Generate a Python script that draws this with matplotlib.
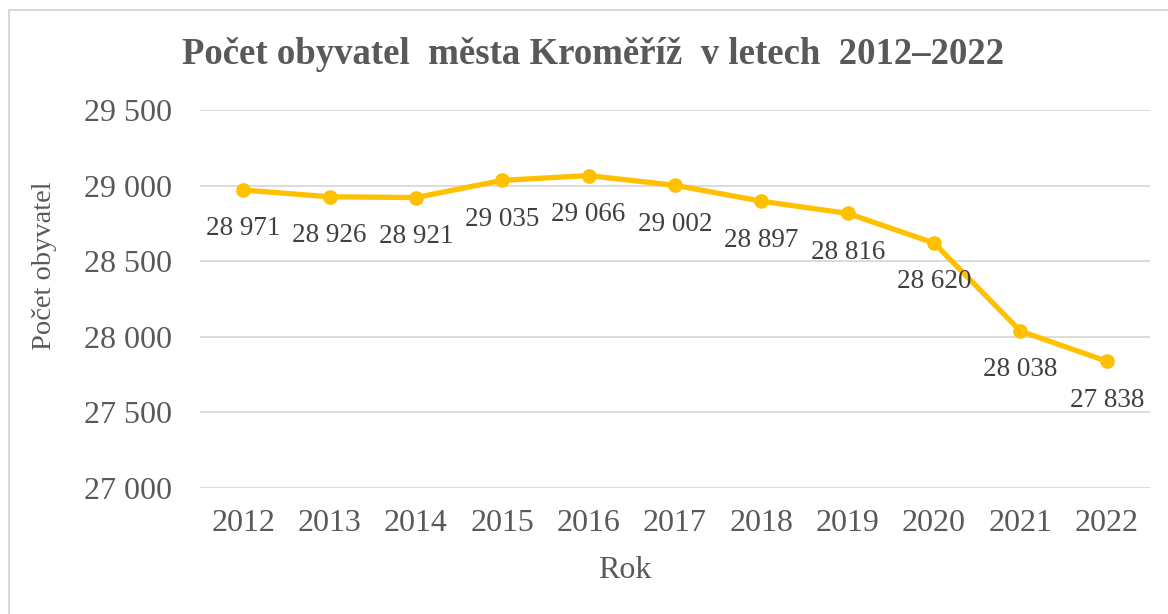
import matplotlib
matplotlib.use("Agg")
import matplotlib.pyplot as plt
from matplotlib.ticker import FuncFormatter
from matplotlib.patches import Rectangle

years = ["2012", "2013", "2014", "2015", "2016", "2017", "2018", "2019", "2020", "2021", "2022"]
population = [28971, 28926, 28921, 29035, 29066, 29002, 28897, 28816, 28620, 28038, 27838]
yticks = [27000, 27500, 28000, 28500, 29000, 29500]

TEXT = "#595959"
GOLD = "#FFC000"
GRID = "#d9d9d9"


def fmt(v, pos=None):
    return f"{v:,.0f}".replace(",", " ")


plt.rcParams["font.family"] = ["Liberation Serif", "DejaVu Serif"]

fig = plt.figure(figsize=(11.68, 6.14), dpi=100)
ax = fig.add_axes([200 / 1168, 1 - 488 / 614, 950 / 1168, 378 / 614])

# chart border
fig.patches.append(Rectangle((9 / 1168, -0.05), 1.2, 1 - 10 / 614 + 0.05,
                             transform=fig.transFigure, fill=False,
                             edgecolor=GRID, linewidth=1.5))

x = list(range(len(years)))
ax.plot(x, population, color=GOLD, linewidth=3.8, marker="o", markersize=9.5,
        solid_capstyle="round", zorder=3)

for xi, v in zip(x, population):
    ax.annotate(fmt(v), (xi, v), xytext=(0, -28), textcoords="offset points",
                ha="center", va="center", fontsize=19.5, color="#404040")

ax.set_xlim(-0.5, len(years) - 0.5)
ax.set_ylim(27000, 29500)
ax.set_yticks(yticks)
ax.yaxis.set_major_formatter(FuncFormatter(fmt))
ax.set_xticks(x)
ax.set_xticklabels(years)
ax.grid(axis="y", color=GRID, linewidth=1.3)
ax.set_axisbelow(True)
for s in ax.spines.values():
    s.set_visible(False)
ax.tick_params(length=0, labelsize=23, colors=TEXT)
ax.tick_params(axis="x", pad=15)
ax.tick_params(axis="y", pad=20)

fig.text(625 / 1168, 1 - 570 / 614, "Rok", ha="center", va="center",
         fontsize=23, color=TEXT)
fig.text(45 / 1168, 1 - 266 / 614, "Počet obyvatel", ha="center", va="center",
         rotation=90, fontsize=20.5, color=TEXT)

fig.text(593 / 1168, 1 - 55 / 614, "Počet obyvatel  města Kroměříž  v letech  2012–2022",
         ha="center", va="center", fontsize=26.5, fontweight="bold", color=TEXT)

fig.savefig("out.png", dpi=100)
